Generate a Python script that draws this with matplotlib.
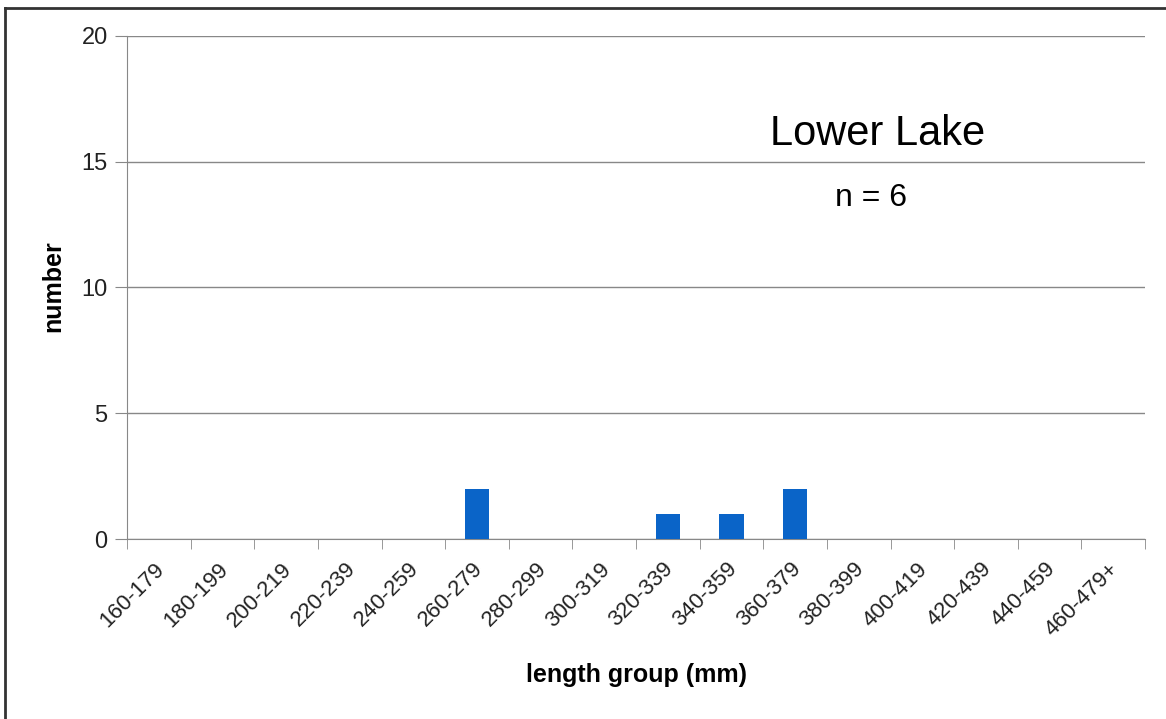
import matplotlib.pyplot as plt
from matplotlib.lines import Line2D
from matplotlib.transforms import ScaledTranslation

plt.rcParams['font.family'] = ['Liberation Sans', 'DejaVu Sans']

groups = ['160-179', '180-199', '200-219', '220-239', '240-259', '260-279',
          '280-299', '300-319', '320-339', '340-359', '360-379', '380-399',
          '400-419', '420-439', '440-459', '460-479+']
counts = [0, 0, 0, 0, 0, 2, 0, 0, 1, 1, 2, 0, 0, 0, 0, 0]

fig = plt.figure(figsize=(11.66, 7.19), dpi=100)
ax = fig.add_axes([0.109, 0.2503, 0.873, 0.6997])

x = list(range(len(groups)))
ax.bar(x, counts, width=0.38, color='#0a64c8', zorder=3)

ax.set_xlim(-0.5, len(groups) - 0.5)
ax.set_ylim(0, 20)
ax.set_yticks([0, 5, 10, 15, 20])
ax.yaxis.grid(True, color='#888888', linewidth=1)
ax.set_axisbelow(True)

# category labels centred, tick marks on boundaries
ax.set_xticks(x)
ax.set_xticklabels(groups, rotation=45, ha='right', rotation_mode='anchor',
                   fontsize=16, color='#222222')
ax.tick_params(axis='x', which='major', length=0, pad=14)
shift = ScaledTranslation(-5 / 100, 0, fig.dpi_scale_trans)
for lbl in ax.get_xticklabels():
    lbl.set_transform(lbl.get_transform() + shift)
ax.set_xticks([i - 0.5 for i in range(len(groups) + 1)], minor=True)
ax.tick_params(axis='x', which='minor', length=7, color='#888888', direction='out')
ax.tick_params(axis='y', length=9, color='#888888', labelsize=17, pad=5,
               labelcolor='#222222')

for s in ['top', 'right']:
    ax.spines[s].set_visible(False)
ax.spines['left'].set_color('#888888')
ax.spines['bottom'].set_color('#888888')

ax.set_ylabel('number', fontsize=18, fontweight='bold')
ax.yaxis.set_label_coords(-0.061, 0.503)
ax.set_xlabel('length group (mm)', fontsize=18, fontweight='bold')
ax.xaxis.set_label_coords(0.5, -0.2465)

ax.text(0.737, 0.783, 'Lower Lake', transform=ax.transAxes, fontsize=30,
        ha='center', va='baseline')
ax.text(0.731, 0.678, 'n = 6', transform=ax.transAxes, fontsize=23,
        ha='center', va='center')

# outer frame: only top and left edges show in the picture
fig.add_artist(Line2D([5 / 1166, 5 / 1166], [0, 1 - 8 / 719],
                      transform=fig.transFigure, color='#333333', linewidth=2))
fig.add_artist(Line2D([5 / 1166, 1], [1 - 8 / 719, 1 - 8 / 719],
                      transform=fig.transFigure, color='#333333', linewidth=2))

fig.savefig('out.png', dpi=100)
